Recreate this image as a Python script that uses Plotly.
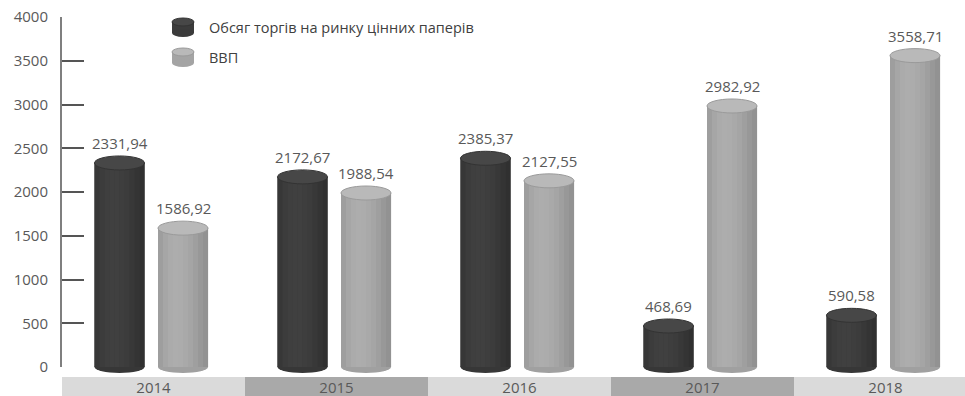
import plotly.graph_objects as go

years = ["2014", "2015", "2016", "2017", "2018"]
trade_volume = [2331.94, 2172.67, 2385.37, 468.69, 590.58]
gdp = [1586.92, 1988.54, 2127.55, 2982.92, 3558.71]
series_names = ["Обсяг торгів на ринку цінних паперів", "ВВП"]
y_ticks = [0, 500, 1000, 1500, 2000, 2500, 3000, 3500, 4000]

W, H = 965, 396
ML, MT, MB = 62, 17, 29
CAT_PX = 183.0
plot_w = W - ML
ph = H - MT - MB
x_range = [-0.5, -0.5 + plot_w / CAT_PX]
BAR_PX = 50.0
bw = BAR_PX / CAT_PX

FONT = "Open Sans, Liberation Sans, sans-serif"
TXT = "#595959"


def fmt(v):
    return f"{v:.2f}".replace(".", ",")


def gray(v):
    v = max(0, min(255, int(round(v))))
    return f"#{v:02x}{v:02x}{v:02x}"


# cylinder shading profile (left -> right), brightness offsets
N_STRIPS = 10
profile = [-6, 2, 7, 9, 8, 5, 1, -5, -12, -18]

styles = [
    dict(off=-59.0, base=0x3b, amp=0.6, top="#474747", edge="#333333"),
    dict(off=4.5, base=0xa4, amp=1.0, top="#b9b9b9", edge="#9a9a9a"),
]

fig = go.Figure()
shapes = []
annotations = []

# category bands below the axis
band_cols = ["#dadada", "#a9a9a9"]
for i, yr in enumerate(years):
    shapes.append(dict(type="rect", xref="x", yref="paper", layer="below",
                       x0=i - 0.5, x1=i + 0.5,
                       y0=-MB / ph, y1=-10 / ph,
                       fillcolor=band_cols[i % 2], line=dict(width=0)))

for s, (name, vals) in enumerate(zip(series_names, [trade_volume, gdp])):
    st = styles[s]
    off = st["off"] / CAT_PX
    side = gray(st["base"])
    # body
    fig.add_bar(x=years, y=vals, name=name, offset=off, width=bw,
                marker=dict(color=side, line=dict(width=0)), showlegend=False,
                hoverinfo="x+y")
    # shading strips
    sw = bw / N_STRIPS
    for j in range(N_STRIPS):
        fig.add_bar(x=years, y=vals, offset=off + j * sw, width=sw * 1.02,
                    marker=dict(color=gray(st["base"] + st["amp"] * profile[j]),
                                line=dict(width=0)),
                    showlegend=False, hoverinfo="skip")
    cx_px = st["off"] + BAR_PX / 2
    for i, v in enumerate(vals):
        cx = i + cx_px / CAT_PX
        # bottom rounded cap
        shapes.append(dict(type="circle", xref="x", yref="paper", layer="below",
                           xsizemode="pixel", ysizemode="pixel",
                           xanchor=cx, yanchor=0, x0=-BAR_PX / 2, x1=BAR_PX / 2,
                           y0=-6, y1=6, fillcolor=gray(st["base"] - 4), line=dict(width=0)))
        # top cap
        shapes.append(dict(type="circle", xref="x", yref="y", layer="above",
                           xsizemode="pixel", ysizemode="pixel",
                           xanchor=cx, yanchor=v, x0=-BAR_PX / 2, x1=BAR_PX / 2,
                           y0=-7, y1=7, fillcolor=st["top"],
                           line=dict(width=1, color=st["edge"])))
        annotations.append(dict(x=cx, y=v, xref="x", yref="y",
                                yshift=8, yanchor="bottom",
                                text=fmt(v), showarrow=False,
                                font=dict(family=FONT, size=15, color=TXT)))

# custom legend with cylinder icons
leg_items = [(27, styles[0]), (57, styles[1])]
for (py, st), name in zip(leg_items, series_names):
    ya = (H - MB - py) / ph
    xa = (183 - ML) / plot_w
    side = gray(st["base"])
    shapes.append(dict(type="rect", xref="paper", yref="paper", layer="above",
                       xsizemode="pixel", ysizemode="pixel", xanchor=xa, yanchor=ya,
                       x0=-11, x1=11, y0=-6, y1=5, fillcolor=side, line=dict(width=0)))
    shapes.append(dict(type="circle", xref="paper", yref="paper", layer="above",
                       xsizemode="pixel", ysizemode="pixel", xanchor=xa, yanchor=ya,
                       x0=-11, x1=11, y0=-10, y1=-2, fillcolor=side, line=dict(width=0)))
    shapes.append(dict(type="circle", xref="paper", yref="paper", layer="above",
                       xsizemode="pixel", ysizemode="pixel", xanchor=xa, yanchor=ya,
                       x0=-11, x1=11, y0=1, y1=9, fillcolor=st["top"],
                       line=dict(width=1, color=st["edge"])))
    annotations.append(dict(x=(207 - ML) / plot_w, y=ya, xref="paper", yref="paper",
                            xanchor="left", yanchor="middle", text=name, showarrow=False,
                            font=dict(family=FONT, size=14.5, color="#404040")))

fig.update_layout(
    width=W, height=H,
    margin=dict(l=ML, r=0, t=MT, b=MB, pad=0, autoexpand=False),
    barmode="overlay",
    plot_bgcolor="white", paper_bgcolor="white",
    showlegend=False,
    shapes=shapes, annotations=annotations,
    font=dict(family=FONT, color=TXT),
)
fig.update_xaxes(type="category", range=x_range, showline=False, showgrid=False,
                 zeroline=False, ticks="", automargin=False,
                 tickfont=dict(family=FONT, size=15, color=TXT),
                 ticklabelstandoff=10)
fig.update_yaxes(range=[0, 4000], tickvals=y_ticks, showgrid=False, zeroline=False,
                 showline=True, linecolor="#7f7f7f", linewidth=2, automargin=False,
                 ticks="inside", ticklen=22, tickwidth=2, tickcolor="#555555",
                 tickfont=dict(family=FONT, size=15, color=TXT), ticklabelstandoff=9)

fig.write_html("out.html", config={"displayModeBar": False},
               post_script="document.body.style.margin='0';document.body.style.padding='0';")
